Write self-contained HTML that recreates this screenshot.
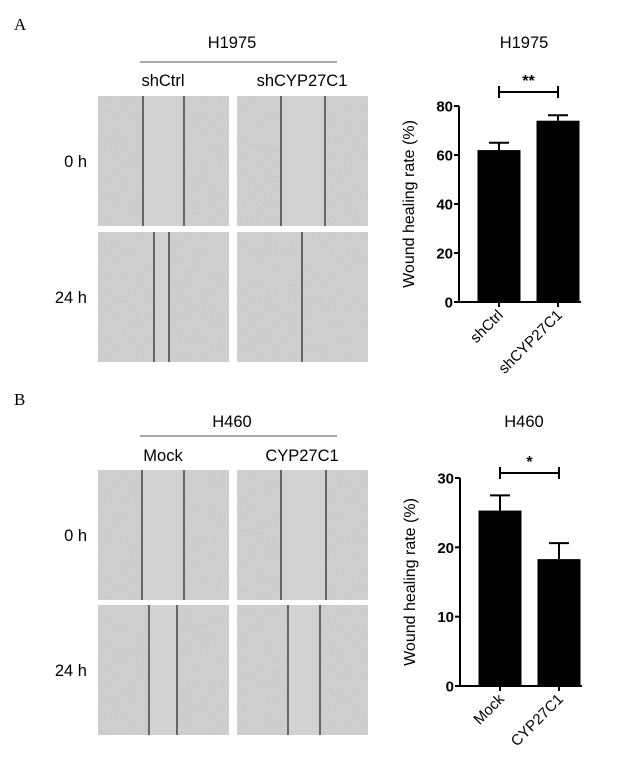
<!DOCTYPE html>
<html><head><meta charset="utf-8"><style>
body{margin:0;background:#fff}
svg{display:block;font-family:"Liberation Sans",Arial,sans-serif}
</style></head><body>
<svg id="fig" width="618" height="762" viewBox="0 0 618 762">
<defs>
<filter id="noise" x="0" y="0" width="100%" height="100%">
<feTurbulence type="fractalNoise" baseFrequency="0.9" numOctaves="2" seed="3" result="n"/>
<feColorMatrix in="n" type="matrix" values="0 0 0 0 0.5  0 0 0 0 0.5  0 0 0 0 0.5  0 0 0 0.35 0" result="g"/>
<feComposite in="g" in2="SourceGraphic" operator="in" result="gi"/>
<feBlend in="SourceGraphic" in2="gi" mode="multiply"/>
</filter>
</defs>
<text x="14" y="30" font-family="Liberation Serif,serif" font-size="17">A</text>
<text x="14" y="405" font-family="Liberation Serif,serif" font-size="17">B</text>
<g id="micro"></g>
<g id="charts"></g>
</svg>
<script>
// Chart data
const topCats = ["shCtrl", "shCYP27C1"];
const topVals = [62, 74];
const topErr = [3, 2.2];
const topTicks = [0, 20, 40, 60, 80];
const botCats = ["Mock", "CYP27C1"];
const botVals = [25.3, 18.3];
const botErr = [2.2, 2.3];
const botTicks = [0, 10, 20, 30];

const NS = "http://www.w3.org/2000/svg";
function mk(tag, attrs, parent, txt){
  const e = document.createElementNS(NS, tag);
  for (const k in attrs) e.setAttribute(k, attrs[k]);
  if (txt !== undefined) e.textContent = txt;
  parent.appendChild(e);
  return e;
}
const micro = document.getElementById('micro');
const charts = document.getElementById('charts');

function txt(x,y,s,size,anchor,name,extra){
  const t = mk('text', Object.assign({x:x,y:y,'font-size':size,'text-anchor':anchor||'middle'}, extra||{}), micro, s);
  
  
  return t;
}

function panelImages(cfg){
  txt(232, cfg.titleY, cfg.title, 16.5, 'middle', 'group-title');
  const ln = mk('line',{x1:140,x2:337,y1:cfg.lineY,y2:cfg.lineY,stroke:'#555','stroke-width':1},micro);
  
  
  txt(163, cfg.colY, cfg.cols[0], 16.5, 'middle', 'column-label');
  txt(302, cfg.colY, cfg.cols[1], 16.5, 'middle', 'column-label');
  cfg.rows.forEach((r,ri)=>{
    txt(87, r.y + 71, r.label, 16.5, 'end', 'row-label');
    [98,237].forEach((x,ci)=>{
      const g = mk('g',{},micro);
      
      
      mk('rect',{x:x,y:r.y,width:131,height:130,fill:'#d6d6d6',filter:'url(#noise)'},g);
      const ls = r.lines[ci];
      if (ls.length===2) mk('rect',{x:ls[0],y:r.y,width:ls[1]-ls[0],height:130,fill:'#d2d2d2'},g);
      ls.forEach(lx=>{
        mk('line',{x1:lx,x2:lx,y1:r.y,y2:r.y+130,stroke:'#111','stroke-width':1.1},g);
      });
    });
  });
}
panelImages({title:'H1975',titleY:48,lineY:62,cols:['shCtrl','shCYP27C1'],colY:86,
  rows:[{y:96,label:'0 h',lines:[[143,184],[281,325]]},{y:232,label:'24 h',lines:[[154,169],[302]]}]});
panelImages({title:'H460',titleY:427,lineY:436,cols:['Mock','CYP27C1'],colY:461,
  rows:[{y:470,label:'0 h',lines:[[142,184],[281,326]]},{y:605,label:'24 h',lines:[[149,177],[288,320]]}]});

function barChart(o){
  const g = mk('g',{},charts);
  
  
  const max = o.ticks[o.ticks.length-1];
  const y = v => o.y0 - (v/max)*(o.y0 - o.yTop);
  const t = mk('text',{x:524,y:o.titleY,'font-size':16.5,'text-anchor':'middle'},g,o.title);
   
  const ax = mk('g',{},g);
   
  mk('line',{x1:o.ax,x2:o.ax,y1:o.yTop,y2:o.y0,stroke:'#000','stroke-width':2},ax);
  o.ticks.forEach(v=>{
    mk('line',{x1:o.ax-5,x2:o.ax,y1:y(v),y2:y(v),stroke:'#000','stroke-width':2},ax);
    const tl = mk('text',{x:o.ax-6,y:y(v)+5.5,'font-size':15,'font-weight':'bold','text-anchor':'end'},ax,String(v));
     
  });
  const yt = mk('text',{x:0,y:0,'font-size':16,'text-anchor':'middle',transform:`translate(${o.ax-45},${(o.y0+o.yTop)/2}) rotate(-90)`},g,'Wound healing rate (%)');
   
  const bw = 43, step = 59;
  const cx = i => o.ax + 40 + i*step;
  mk('line',{x1:o.ax-1,x2:o.ax+2*step+4,y1:o.y0,y2:o.y0,stroke:'#000','stroke-width':2},g);
  o.cats.forEach((c,i)=>{
    const b = mk('rect',{x:cx(i)-bw/2,y:y(o.vals[i]),width:bw,height:o.y0-y(o.vals[i]),fill:'#000'},g);
     
    const top = y(o.vals[i]+o.errs[i]);
    const e = mk('path',{d:`M${cx(i)},${y(o.vals[i])}V${top}M${cx(i)-10},${top}H${cx(i)+10}`,stroke:'#000','stroke-width':2,fill:'none'},g);
     
    mk('line',{x1:cx(i),x2:cx(i),y1:o.y0,y2:o.y0+5,stroke:'#000','stroke-width':2},g);
    const xl = mk('text',{x:0,y:0,'font-size':15,'text-anchor':'end',transform:`translate(${cx(i)+5},${o.y0+14}) rotate(-45)`},g,c);
     
  });
  const s = mk('g',{},g);
   
  mk('path',{d:`M${cx(0)},${o.brY-6}V${o.brY+6}M${cx(0)},${o.brY}H${cx(1)}M${cx(1)},${o.brY-6}V${o.brY+6}`,stroke:'#000','stroke-width':2,fill:'none'},s);
  mk('text',{x:(cx(0)+cx(1))/2,y:o.brY-6,'font-size':16,'font-weight':'bold','text-anchor':'middle'},s,o.star);
}
barChart({name:'h1975-bar-chart',title:'H1975',titleY:48,cats:topCats,vals:topVals,errs:topErr,ticks:topTicks,ax:459,y0:302,yTop:106,brY:92,star:'**'});
barChart({name:'h460-bar-chart',title:'H460',titleY:427,cats:botCats,vals:botVals,errs:botErr,ticks:botTicks,ax:460,y0:686,yTop:478,brY:473,star:'*'});
</script>
</body></html>
